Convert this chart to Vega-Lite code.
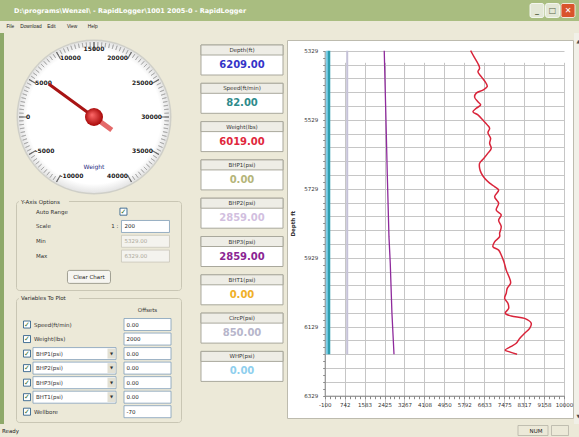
{
  "$schema": "https://vega.github.io/schema/vega-lite/v6.json",
  "padding": 0,
  "background": "#ece9d8",
  "spacing": 0,
  "resolve": {"scale": {"color": "independent", "fill": "independent", "stroke": "independent", "strokeWidth": "independent", "theta": "independent"}},
  "config": {
    "view": {"stroke": null},
    "concat": {"spacing": 0},
    "font": "DejaVu Sans",
    "text": {"font": "DejaVu Sans"},
    "axis": {"labelFont": "DejaVu Sans", "titleFont": "DejaVu Sans"}
  },
  "datasets": {
    "gminor": [{"v":-10000},{"v":-9500},{"v":-9000},{"v":-8500},{"v":-8000},{"v":-7500},{"v":-7000},{"v":-6500},{"v":-6000},{"v":-5500},{"v":-5000},{"v":-4500},{"v":-4000},{"v":-3500},{"v":-3000},{"v":-2500},{"v":-2000},{"v":-1500},{"v":-1000},{"v":-500},{"v":0},{"v":500},{"v":1000},{"v":1500},{"v":2000},{"v":2500},{"v":3000},{"v":3500},{"v":4000},{"v":4500},{"v":5000},{"v":5500},{"v":6000},{"v":6500},{"v":7000},{"v":7500},{"v":8000},{"v":8500},{"v":9000},{"v":9500},{"v":10000},{"v":10500},{"v":11000},{"v":11500},{"v":12000},{"v":12500},{"v":13000},{"v":13500},{"v":14000},{"v":14500},{"v":15000},{"v":15500},{"v":16000},{"v":16500},{"v":17000},{"v":17500},{"v":18000},{"v":18500},{"v":19000},{"v":19500},{"v":20000},{"v":20500},{"v":21000},{"v":21500},{"v":22000},{"v":22500},{"v":23000},{"v":23500},{"v":24000},{"v":24500},{"v":25000},{"v":25500},{"v":26000},{"v":26500},{"v":27000},{"v":27500},{"v":28000},{"v":28500},{"v":29000},{"v":29500},{"v":30000},{"v":30500},{"v":31000},{"v":31500},{"v":32000},{"v":32500},{"v":33000},{"v":33500},{"v":34000},{"v":34500},{"v":35000},{"v":35500},{"v":36000},{"v":36500},{"v":37000},{"v":37500},{"v":38000},{"v":38500},{"v":39000},{"v":39500},{"v":40000}],
    "gmajor": [{"v":-10000,"lab":"-10000"},{"v":-5000,"lab":"-5000"},{"v":0,"lab":"0"},{"v":5000,"lab":"5000"},{"v":10000,"lab":"10000"},{"v":15000,"lab":"15000"},{"v":20000,"lab":"20000"},{"v":25000,"lab":"25000"},{"v":30000,"lab":"30000"},{"v":35000,"lab":"35000"},{"v":40000,"lab":"40000"}],
    "needle": [{"val": 6019}],
    "readouts": [
      {"name":"Depth","label":"Depth(ft)","value":"6209.00"},
      {"name":"Speed","label":"Speed(ft/min)","value":"82.00"},
      {"name":"Weight","label":"Weight(lbs)","value":"6019.00"},
      {"name":"BHP1","label":"BHP1(psi)","value":"0.00"},
      {"name":"BHP2","label":"BHP2(psi)","value":"2859.00"},
      {"name":"BHP3","label":"BHP3(psi)","value":"2859.00"},
      {"name":"BHT1","label":"BHT1(psi)","value":"0.00"},
      {"name":"CircP","label":"CircP(psi)","value":"850.00"},
      {"name":"WHP","label":"WHP(psi)","value":"0.00"}
    ],
    "yopts": [
      {"row":"auto","lbl":"Auto Range"},
      {"row":"scale","lbl":"Scale","val":"200","pre":"1 :"},
      {"row":"min","lbl":"Min","val":"5329.00"},
      {"row":"max","lbl":"Max","val":"6329.00"}
    ],
    "vars": [
      {"row":"speed","lbl":"Speed(ft/min)","combo":false,"off":"0.00"},
      {"row":"weight","lbl":"Weight(lbs)","combo":false,"off":"2000"},
      {"row":"bhp1","lbl":"BHP1(psi)","combo":true,"off":"0.00"},
      {"row":"bhp2","lbl":"BHP2(psi)","combo":true,"off":"0.00"},
      {"row":"bhp3","lbl":"BHP3(psi)","combo":true,"off":"0.00"},
      {"row":"bht1","lbl":"BHT1(psi)","combo":true,"off":"0.00"},
      {"row":"wellbore","lbl":"Wellbore","combo":false,"off":"-70"}
    ],
    "logs": [
      {"series":"Speed","depth":5329,"val":82},{"series":"Speed","depth":6209,"val":82},
      {"series":"WHP","depth":5329,"val":0},{"series":"WHP","depth":6209,"val":0},
      {"series":"CircP","depth":5329,"val":850},{"series":"CircP","depth":6209,"val":850},
      {"series":"BHP3","depth":5329,"val":2413},{"series":"BHP3","depth":5491,"val":2472},{"series":"BHP3","depth":5684,"val":2540},{"series":"BHP3","depth":5868,"val":2612},{"series":"BHP3","depth":5945,"val":2667},{"series":"BHP3","depth":6090,"val":2738},{"series":"BHP3","depth":6209,"val":2825},
      {"series":"Weight","depth":5329,"val":6059},{"series":"Weight","depth":5346,"val":6198},{"series":"Weight","depth":5366,"val":6367},{"series":"Weight","depth":5380,"val":6439},{"series":"Weight","depth":5390,"val":6367},{"series":"Weight","depth":5404,"val":6507},{"series":"Weight","depth":5424,"val":6718},{"series":"Weight","depth":5433,"val":6760},{"series":"Weight","depth":5443,"val":6578},{"series":"Weight","depth":5452,"val":6296},{"series":"Weight","depth":5464,"val":6228},{"series":"Weight","depth":5477,"val":6367},{"series":"Weight","depth":5486,"val":6481},{"series":"Weight","depth":5496,"val":6296},{"series":"Weight","depth":5506,"val":6156},{"series":"Weight","depth":5515,"val":6367},{"series":"Weight","depth":5530,"val":6578},{"series":"Weight","depth":5544,"val":6760},{"series":"Weight","depth":5554,"val":6861},{"series":"Weight","depth":5567,"val":6789},{"series":"Weight","depth":5583,"val":6903},{"series":"Weight","depth":5597,"val":6861},{"series":"Weight","depth":5612,"val":6929},{"series":"Weight","depth":5626,"val":6789},{"series":"Weight","depth":5641,"val":6620},{"series":"Weight","depth":5655,"val":6439},{"series":"Weight","depth":5670,"val":6439},{"series":"Weight","depth":5684,"val":6507},{"series":"Weight","depth":5699,"val":6650},{"series":"Weight","depth":5713,"val":6861},{"series":"Weight","depth":5723,"val":7072},{"series":"Weight","depth":5733,"val":7241},{"series":"Weight","depth":5752,"val":7072},{"series":"Weight","depth":5771,"val":7241},{"series":"Weight","depth":5791,"val":7140},{"series":"Weight","depth":5805,"val":7351},{"series":"Weight","depth":5820,"val":7241},{"series":"Weight","depth":5839,"val":7351},{"series":"Weight","depth":5858,"val":7283},{"series":"Weight","depth":5868,"val":7283},{"series":"Weight","depth":5883,"val":7072},{"series":"Weight","depth":5897,"val":7000},{"series":"Weight","depth":5907,"val":7241},{"series":"Weight","depth":5921,"val":7351},{"series":"Weight","depth":5941,"val":7464},{"series":"Weight","depth":5965,"val":7562},{"series":"Weight","depth":5989,"val":7705},{"series":"Weight","depth":6003,"val":7747},{"series":"Weight","depth":6018,"val":7604},{"series":"Weight","depth":6032,"val":7562},{"series":"Weight","depth":6047,"val":7494},{"series":"Weight","depth":6061,"val":7633},{"series":"Weight","depth":6076,"val":7663},{"series":"Weight","depth":6090,"val":7519},{"series":"Weight","depth":6098,"val":7773},{"series":"Weight","depth":6105,"val":8338},{"series":"Weight","depth":6119,"val":8617},{"series":"Weight","depth":6134,"val":8549},{"series":"Weight","depth":6148,"val":8338},{"series":"Weight","depth":6163,"val":8127},{"series":"Weight","depth":6177,"val":7984},{"series":"Weight","depth":6187,"val":7747},{"series":"Weight","depth":6197,"val":7519},{"series":"Weight","depth":6202,"val":7705},{"series":"Weight","depth":6209,"val":8019}
    ]
  },
  "vconcat": [
    {
      "bounds": "flush",
      "resolve": {"scale": {"color": "independent", "fill": "independent", "stroke": "independent"}},
      "hconcat": [
        {
          "width": 520, "height": 21,
          "view": {"fill": "#a9bd80", "stroke": null},
          "data": {"values": [{"t": "D:\\programs\\Wenzel\\ - RapidLogger\\1001 2005-0 - RapidLogger"}]},
          "mark": {"type": "text", "align": "left", "baseline": "middle", "dx": 14, "fontSize": 6.5, "fontWeight": "bold", "color": "#ffffff"},
          "encoding": {
            "x": {"datum": 0, "type": "quantitative", "scale": {"domain": [0, 1]}, "axis": null},
            "text": {"field": "t"}
          }
        },
        {
          "width": 59, "height": 21,
          "view": {"fill": "#a9bd80", "stroke": null},
          "data": {"values": [{"b": "min", "g": "_"}, {"b": "max", "g": "□"}, {"b": "close", "g": "✕"}]},
          "encoding": {
            "x": {"field": "b", "type": "nominal", "scale": {"type": "point", "domain": ["min", "max", "close"], "padding": 0.903, "align": 0.607}, "axis": null},
            "y": {"datum": "c", "type": "nominal", "scale": {"type": "point", "padding": 0.5}, "axis": null}
          },
          "layer": [
            {"mark": {"type": "rect", "width": 14, "height": 14, "cornerRadius": 2, "stroke": "#ffffff", "strokeWidth": 0.8},
             "encoding": {"fill": {"field": "b", "type": "nominal", "scale": {"domain": ["min", "max", "close"], "range": ["#e3e7d6", "#e3e7d6", "#d9532c"]}, "legend": null}}},
            {"mark": {"type": "text", "fontSize": 8, "fontWeight": "bold"},
             "encoding": {"text": {"field": "g"}, "color": {"field": "b", "type": "nominal", "scale": {"domain": ["min", "max", "close"], "range": ["#5a6648", "#5a6648", "#ffffff"]}, "legend": null}}}
          ]
        }
      ],
      "spacing": 0
    },
    {
      "bounds": "flush",
      "hconcat": [
        {
          "width": 103, "height": 12,
          "data": {"values": [{"m": "File"}, {"m": "Download"}, {"m": "Edit"}, {"m": "View"}, {"m": "Help"}]},
          "mark": {"type": "text", "fontSize": 4.8, "font": "Liberation Sans", "color": "#222222"},
          "encoding": {
            "x": {"field": "m", "type": "nominal", "sort": null, "scale": {"type": "band", "domain": ["File", "Download", "Edit", "View", "Help"], "paddingInner": 0, "paddingOuter": 0}, "axis": null},
            "text": {"field": "m"}
          }
        },
        {"width": 476, "height": 12, "data": {"values": []}, "mark": "point", "encoding": {}}
      ],
      "spacing": 0
    },
    {
      "resolve": {"scale": {"color": "independent", "fill": "independent", "stroke": "independent", "strokeWidth": "independent", "theta": "independent"}},
      "hconcat": [
        {"width": 4, "height": 391, "view": {"fill": "#8ea96a", "stroke": null}, "data": {"values": []}, "mark": "point", "encoding": {}},
        {"width": 11, "height": 10, "data": {"values": []}, "mark": "point", "encoding": {}},
        {
          "bounds": "flush",
          "resolve": {"scale": {"color": "independent", "fill": "independent", "stroke": "independent", "theta": "independent"}},
          "vconcat": [
            {
              "width": 156, "height": 168,
              "layer": [
                {"data": {"values": [{"k": 1}]}, "mark": {"type": "arc", "theta": 0, "theta2": 6.2832, "innerRadius": 0, "outerRadius": 77.5, "fill": "#cfcfc8"}},
                {"data": {"values": [{"k": 1}]}, "mark": {"type": "arc", "theta": 0, "theta2": 6.2832, "innerRadius": 0, "outerRadius": 76, "fill": {"gradient": "radial", "stops": [{"offset": 0, "color": "#ffffff"}, {"offset": 0.88, "color": "#ffffff"}, {"offset": 1, "color": "#e4e4e4"}]}}},
                {"data": {"name": "gminor"}, "mark": {"type": "arc", "innerRadius": 70.5, "outerRadius": 75, "filled": false, "stroke": "#a3a3a3", "strokeWidth": 0.7},
                 "encoding": {"theta": {"field": "v", "type": "quantitative", "stack": null, "scale": {"domain": [-10000, 40000], "range": [-2.618, 2.618]}}, "theta2": {"field": "v"}}},
                {"data": {"name": "gmajor"}, "mark": {"type": "arc", "innerRadius": 67, "outerRadius": 75, "filled": false, "stroke": "#6a6a6a", "strokeWidth": 1.2},
                 "encoding": {"theta": {"field": "v", "type": "quantitative", "stack": null, "scale": {"domain": [-10000, 40000], "range": [-2.618, 2.618]}}, "theta2": {"field": "v"}}},
                {"data": {"name": "gmajor"}, "mark": {"type": "text", "radius": 68, "fontSize": 6, "fontWeight": "bold", "color": "#222222", "align": {"expr": "datum.v > 15000 ? 'right' : (datum.v < 15000 ? 'left' : 'center')"}},
                 "encoding": {"theta": {"field": "v", "type": "quantitative", "stack": null, "scale": {"domain": [-10000, 40000], "range": [-2.618, 2.618]}}, "text": {"field": "lab"}}},
                {"data": {"values": [{"t": "Weight"}]}, "mark": {"type": "text", "dy": 50, "fontSize": 6, "color": "#1f2a80"}, "encoding": {"text": {"field": "t"}}},
                {"data": {"name": "needle"}, "mark": {"type": "arc", "innerRadius": 0, "outerRadius": 22, "thetaOffset": 3.1416, "theta2Offset": 3.1416, "filled": false, "stroke": "#e46a6a", "strokeWidth": 5, "strokeCap": "round"},
                 "encoding": {"theta": {"field": "val", "type": "quantitative", "stack": null, "scale": {"domain": [-10000, 40000], "range": [-2.618, 2.618]}}, "theta2": {"field": "val"}}},
                {"data": {"name": "needle"}, "mark": {"type": "arc", "innerRadius": 0, "outerRadius": 56, "filled": false, "stroke": "#a81414", "strokeWidth": 3, "strokeCap": "round"},
                 "encoding": {"theta": {"field": "val", "type": "quantitative", "stack": null, "scale": {"domain": [-10000, 40000], "range": [-2.618, 2.618]}}, "theta2": {"field": "val"}}},
                {"data": {"values": [{"k": 1}]}, "mark": {"type": "arc", "theta": 0, "theta2": 6.2832, "innerRadius": 0, "outerRadius": 9, "fill": {"gradient": "radial", "x1": 0.38, "y1": 0.38, "r1": 0, "x2": 0.5, "y2": 0.5, "r2": 0.55, "stops": [{"offset": 0, "color": "#ff6a6a"}, {"offset": 1, "color": "#a00000"}]}}}
              ]
            },
            {
              "width": 165, "height": 89,
              "view": {"stroke": "#c9c6b4", "cornerRadius": 3},
              "data": {"name": "yopts"},
              "encoding": {
                "y": {"field": "row", "type": "nominal", "scale": {"type": "point", "domain": ["auto", "scale", "min", "max", "btn", "end"], "padding": 0.505, "align": 0.713}, "axis": null}
              },
              "layer": [
                {"data": {"values": [{"row": "auto", "t": "Y-Axis Options"}]},
                 "mark": {"type": "rect", "width": 50, "height": 6, "xOffset": 8, "yOffset": -9.5, "fill": "#ece9d8"},
                 "encoding": {"x": {"datum": "lbl", "type": "nominal", "scale": {"type": "point", "domain": ["lbl", "fld"], "padding": 0.2535, "align": 0.36}, "axis": null}}},
                {"data": {"values": [{"row": "auto", "t": "Y-Axis Options"}]},
                 "mark": {"type": "text", "align": "left", "xOffset": -15, "yOffset": -9.5, "fontSize": 5.5, "color": "#2b2b2b"},
                 "encoding": {"x": {"datum": "lbl", "type": "nominal", "scale": {"type": "point", "domain": ["lbl", "fld"], "padding": 0.2535, "align": 0.36}, "axis": null}, "text": {"field": "t"}}},
                {"mark": {"type": "text", "align": "left", "fontSize": 5.5, "color": "#333333"},
                 "encoding": {"x": {"datum": "lbl", "type": "nominal", "scale": {"type": "point", "domain": ["lbl", "fld"], "padding": 0.2535, "align": 0.36}, "axis": null}, "text": {"field": "lbl"}}},
                {"transform": [{"filter": "datum.row === 'auto'"}],
                 "mark": {"type": "rect", "width": 7, "height": 7, "xOffset": -22, "fill": "#ffffff", "stroke": "#1c5180", "strokeWidth": 0.8},
                 "encoding": {"x": {"datum": "fld", "type": "nominal", "scale": {"type": "point", "domain": ["lbl", "fld"], "padding": 0.2535, "align": 0.36}, "axis": null}}},
                {"transform": [{"filter": "datum.row === 'auto'"}],
                 "mark": {"type": "text", "xOffset": -22, "fontSize": 7, "fontWeight": "bold", "color": "#2f6f2f", "text": "✓"},
                 "encoding": {"x": {"datum": "fld", "type": "nominal", "scale": {"type": "point", "domain": ["lbl", "fld"], "padding": 0.2535, "align": 0.36}, "axis": null}}},
                {"transform": [{"filter": "isValid(datum.val)"}],
                 "mark": {"type": "rect", "width": 48, "height": 12, "strokeWidth": 0.8},
                 "encoding": {
                   "x": {"datum": "fld", "type": "nominal", "scale": {"type": "point", "domain": ["lbl", "fld"], "padding": 0.2535, "align": 0.36}, "axis": null},
                   "fill": {"condition": {"test": "datum.row === 'scale'", "value": "#ffffff"}, "value": "#f4f3ee"},
                   "stroke": {"condition": {"test": "datum.row === 'scale'", "value": "#7f9db9"}, "value": "#c9c7ba"}
                 }},
                {"transform": [{"filter": "isValid(datum.val)"}],
                 "mark": {"type": "text", "align": "left", "dx": -21, "fontSize": 5.5},
                 "encoding": {
                   "x": {"datum": "fld", "type": "nominal", "scale": {"type": "point", "domain": ["lbl", "fld"], "padding": 0.2535, "align": 0.36}, "axis": null},
                   "text": {"field": "val"},
                   "color": {"condition": {"test": "datum.row === 'scale'", "value": "#222222"}, "value": "#aca899"}
                 }},
                {"transform": [{"filter": "isValid(datum.pre)"}],
                 "mark": {"type": "text", "align": "right", "dx": -27, "fontSize": 5.5, "color": "#333333"},
                 "encoding": {"x": {"datum": "fld", "type": "nominal", "scale": {"type": "point", "domain": ["lbl", "fld"], "padding": 0.2535, "align": 0.36}, "axis": null}, "text": {"field": "pre"}}},
                {"data": {"values": [{"row": "btn", "t": "Clear Chart"}]},
                 "mark": {"type": "rect", "width": 43, "height": 13, "xOffset": 53, "yOffset": 6, "cornerRadius": 2, "fill": "#f6f5f0", "stroke": "#8c8a7c", "strokeWidth": 0.8},
                 "encoding": {"x": {"datum": "lbl", "type": "nominal", "scale": {"type": "point", "domain": ["lbl", "fld"], "padding": 0.2535, "align": 0.36}, "axis": null}}},
                {"data": {"values": [{"row": "btn", "t": "Clear Chart"}]},
                 "mark": {"type": "text", "xOffset": 53, "yOffset": 6, "fontSize": 5.5, "color": "#222222"},
                 "encoding": {"x": {"datum": "lbl", "type": "nominal", "scale": {"type": "point", "domain": ["lbl", "fld"], "padding": 0.2535, "align": 0.36}, "axis": null}, "text": {"field": "t"}}}
              ]
            },
            {"width": 10, "height": 8, "data": {"values": []}, "mark": "point", "encoding": {}},
            {
              "width": 165, "height": 124,
              "view": {"stroke": "#c9c6b4", "cornerRadius": 3},
              "data": {"name": "vars"},
              "encoding": {
                "y": {"field": "row", "type": "nominal", "scale": {"type": "point", "domain": ["hdr", "speed", "weight", "bhp1", "bhp2", "bhp3", "bht1", "wellbore"], "padding": 0.767, "align": 0.538}, "axis": null}
              },
              "layer": [
                {"data": {"values": [{"row": "hdr", "t": "Variables To Plot"}]},
                 "mark": {"type": "rect", "width": 60, "height": 6, "xOffset": 22, "yOffset": -11.5, "fill": "#ece9d8"},
                 "encoding": {"x": {"datum": "chk", "type": "nominal", "scale": {"type": "point", "domain": ["chk", "fld"], "padding": 0.1845, "align": 0.247}, "axis": null}}},
                {"data": {"values": [{"row": "hdr", "t": "Variables To Plot"}]},
                 "mark": {"type": "text", "align": "left", "xOffset": -6, "yOffset": -11.5, "fontSize": 5.5, "color": "#2b2b2b"},
                 "encoding": {"x": {"datum": "chk", "type": "nominal", "scale": {"type": "point", "domain": ["chk", "fld"], "padding": 0.1845, "align": 0.247}, "axis": null}, "text": {"field": "t"}}},
                {"mark": {"type": "rect", "width": 7, "height": 7, "fill": "#ffffff", "stroke": "#1c5180", "strokeWidth": 0.8},
                 "encoding": {"x": {"datum": "chk", "type": "nominal", "scale": {"type": "point", "domain": ["chk", "fld"], "padding": 0.1845, "align": 0.247}, "axis": null}}},
                {"mark": {"type": "text", "fontSize": 7, "fontWeight": "bold", "color": "#2f6f2f", "text": "✓"},
                 "encoding": {"x": {"datum": "chk", "type": "nominal", "scale": {"type": "point", "domain": ["chk", "fld"], "padding": 0.1845, "align": 0.247}, "axis": null}}},
                {"transform": [{"filter": "!datum.combo"}],
                 "mark": {"type": "text", "align": "left", "dx": 7, "fontSize": 5.5, "color": "#333333"},
                 "encoding": {"x": {"datum": "chk", "type": "nominal", "scale": {"type": "point", "domain": ["chk", "fld"], "padding": 0.1845, "align": 0.247}, "axis": null}, "text": {"field": "lbl"}}},
                {"transform": [{"filter": "datum.combo"}],
                 "mark": {"type": "rect", "width": 83, "height": 12, "xOffset": 47.5, "fill": "#ffffff", "stroke": "#7f9db9", "strokeWidth": 0.8},
                 "encoding": {"x": {"datum": "chk", "type": "nominal", "scale": {"type": "point", "domain": ["chk", "fld"], "padding": 0.1845, "align": 0.247}, "axis": null}}},
                {"transform": [{"filter": "datum.combo"}],
                 "mark": {"type": "rect", "width": 8, "height": 10, "xOffset": 84.5, "fill": "#e2e0d4"},
                 "encoding": {"x": {"datum": "chk", "type": "nominal", "scale": {"type": "point", "domain": ["chk", "fld"], "padding": 0.1845, "align": 0.247}, "axis": null}}},
                {"transform": [{"filter": "datum.combo"}],
                 "mark": {"type": "text", "xOffset": 84.5, "fontSize": 4, "color": "#333333", "text": "▼"},
                 "encoding": {"x": {"datum": "chk", "type": "nominal", "scale": {"type": "point", "domain": ["chk", "fld"], "padding": 0.1845, "align": 0.247}, "axis": null}}},
                {"transform": [{"filter": "datum.combo"}],
                 "mark": {"type": "text", "align": "left", "dx": 9, "fontSize": 5.5, "color": "#333333"},
                 "encoding": {"x": {"datum": "chk", "type": "nominal", "scale": {"type": "point", "domain": ["chk", "fld"], "padding": 0.1845, "align": 0.247}, "axis": null}, "text": {"field": "lbl"}}},
                {"mark": {"type": "rect", "width": 47, "height": 12, "fill": "#ffffff", "stroke": "#7f9db9", "strokeWidth": 0.8},
                 "encoding": {"x": {"datum": "fld", "type": "nominal", "scale": {"type": "point", "domain": ["chk", "fld"], "padding": 0.1845, "align": 0.247}, "axis": null}}},
                {"mark": {"type": "text", "align": "left", "dx": -21, "fontSize": 5.5, "color": "#222222"},
                 "encoding": {"x": {"datum": "fld", "type": "nominal", "scale": {"type": "point", "domain": ["chk", "fld"], "padding": 0.1845, "align": 0.247}, "axis": null}, "text": {"field": "off"}}},
                {"data": {"values": [{"row": "hdr", "t": "Offsets"}]},
                 "mark": {"type": "text", "fontSize": 5.5, "color": "#333333"},
                 "encoding": {"x": {"datum": "fld", "type": "nominal", "scale": {"type": "point", "domain": ["chk", "fld"], "padding": 0.1845, "align": 0.247}, "axis": null}, "text": {"field": "t"}}}
              ]
            }
          ],
          "spacing": 0
        },
        {
          "width": 104, "height": 391,
          "data": {"name": "readouts"},
          "encoding": {
            "y": {"field": "name", "type": "nominal", "sort": null, "scale": {"type": "band", "domain": ["Depth", "Speed", "Weight", "BHP1", "BHP2", "BHP3", "BHT1", "CircP", "WHP"], "paddingInner": 0.217, "paddingOuter": 0.713, "align": 0.22}, "axis": null},
            "x": {"datum": "box", "type": "nominal", "scale": {"type": "band", "domain": ["box"], "paddingInner": 0, "paddingOuter": 0.134, "align": 0.864}, "axis": null}
          },
          "layer": [
            {"mark": {"type": "rect", "fill": "#ffffff", "stroke": "#a9a89c", "strokeWidth": 1}},
            {"mark": {"type": "rect", "height": 10, "yOffset": -10, "fill": "#eeede6", "stroke": "#a9a89c", "strokeWidth": 1}},
            {"mark": {"type": "text", "yOffset": -10, "fontSize": 5.5, "color": "#333333"}, "encoding": {"text": {"field": "label"}}},
            {"mark": {"type": "text", "yOffset": 5, "fontSize": 10, "fontWeight": "bold"},
             "encoding": {
               "text": {"field": "value"},
               "color": {"field": "name", "type": "nominal", "scale": {"domain": ["Depth", "Speed", "Weight", "BHP1", "BHP2", "BHP3", "BHT1", "CircP", "WHP"], "range": ["#3434c8", "#2e8b8b", "#e0283c", "#b5b57a", "#d2bfdf", "#8b2593", "#f0b028", "#b7b6cb", "#8fcfee"]}, "legend": null}
             }}
          ]
        },
        {
          "bounds": "flush",
          "vconcat": [
            {"width": 286, "height": 7, "data": {"values": []}, "mark": "point", "encoding": {}},
            {
              "width": 286, "height": 378,
              "view": {"fill": "#ffffff", "stroke": "#bdbbae"},
              "data": {"name": "logs"},
              "encoding": {
                "x": {"field": "val", "type": "quantitative",
                  "scale": {"domain": [-100, 10000], "range": [37.7, 277], "nice": false, "zero": false},
                  "axis": {
                    "values": [-100,110.4167,320.8333,531.25,741.6667,952.0833,1162.5,1372.9167,1583.3333,1793.75,2004.1667,2214.5833,2425,2635.4167,2845.8333,3056.25,3266.6667,3477.0833,3687.5,3897.9167,4108.3333,4318.75,4529.1667,4739.5833,4950,5160.4167,5370.8333,5581.25,5791.6667,6002.0833,6212.5,6422.9167,6633.3333,6843.75,7054.1667,7264.5833,7475,7685.4167,7895.8333,8106.25,8316.6667,8527.0833,8737.5,8947.9167,9158.3333,9368.75,9579.1667,9789.5833,10000],
                    "offset": -22.3,
                    "title": null,
                    "grid": true,
                    "gridColor": "#c6c6c6",
                    "gridWidth": 1,
                    "gridOpacity": {"condition": {"test": "round((datum.value + 100) / 210.41667) % 4 === 0", "value": 1}, "value": 0},
                    "tickSize": 3,
                    "tickColor": "#8a8a8a",
                    "domainColor": "#8a8a8a",
                    "labelExpr": "round((datum.value + 100) / 210.41667) % 4 === 0 ? '' + round(datum.value) : ''",
                    "labelFontSize": 5.5,
                    "labelColor": "#333333",
                    "labelPadding": 4,
                    "labelOverlap": false,
                    "labelBound": false,
                    "labelFlush": false
                  }
                },
                "y": {"field": "depth", "type": "quantitative",
                  "scale": {"domain": [5329, 6329], "range": [10.7, 355.7], "nice": false, "zero": false},
                  "axis": {
                    "values": [5329,5349,5369,5389,5409,5429,5449,5469,5489,5509,5529,5549,5569,5589,5609,5629,5649,5669,5689,5709,5729,5749,5769,5789,5809,5829,5849,5869,5889,5909,5929,5949,5969,5989,6009,6029,6049,6069,6089,6109,6129,6149,6169,6189,6209,6229,6249,6269,6289,6309,6329],
                    "offset": -37.7,
                    "title": "Depth ft",
                    "titleFontSize": 5.5,
                    "titleFontWeight": "bold",
                    "titleColor": "#333333",
                    "titlePadding": 8,
                    "grid": true,
                    "gridColor": "#c6c6c6",
                    "gridWidth": 1,
                    "gridOpacity": {"condition": {"test": "(datum.value - 5329) % 40 === 0", "value": 1}, "value": 0},
                    "tickSize": 2,
                    "tickColor": "#8a8a8a",
                    "domainColor": "#8a8a8a",
                    "labelExpr": "(datum.value - 5329) % 200 === 0 ? '' + datum.value : ''",
                    "labelFontSize": 5.5,
                    "labelColor": "#333333",
                    "labelPadding": 5,
                    "labelOverlap": false,
                    "labelBound": false,
                    "labelFlush": false
                  }
                },
                "order": {"field": "depth", "type": "quantitative"}
              },
              "layer": [
                {"transform": [{"filter": "datum.series === 'CircP'"}], "mark": {"type": "line", "strokeWidth": 2, "color": "#c5c2d8"}},
                {"transform": [{"filter": "datum.series === 'WHP'"}], "mark": {"type": "line", "strokeWidth": 2.5, "color": "#7fd0ea"}},
                {"transform": [{"filter": "datum.series === 'Speed'"}], "mark": {"type": "line", "strokeWidth": 2.5, "color": "#2f9eae"}},
                {"transform": [{"filter": "datum.series === 'BHP3'"}], "mark": {"type": "line", "strokeWidth": 1.3, "color": "#8e2a9c"}},
                {"transform": [{"filter": "datum.series === 'Weight'"}], "mark": {"type": "line", "strokeWidth": 1.5, "color": "#d9243a", "interpolate": "catmull-rom", "strokeJoin": "round"}}
              ]
            }
          ],
          "spacing": 0
        },
        {
          "width": 9, "height": 391,
          "view": {"fill": "#f1f0e8", "stroke": null},
          "data": {"values": [{"a": "up", "g": "▲"}, {"a": "down", "g": "▼"}]},
          "mark": {"type": "text", "fontSize": 5, "color": "#4d4d4d"},
          "encoding": {
            "y": {"field": "a", "type": "nominal", "scale": {"type": "point", "domain": ["up", "down"], "padding": 0.02}, "axis": null},
            "text": {"field": "g"}
          }
        }
      ],
      "spacing": 0
    },
    {
      "width": 579, "height": 13,
      "data": {"values": [{"k": "ready", "t": "Ready"}, {"k": "num", "t": "NUM"}]},
      "encoding": {
        "x": {"field": "k", "type": "nominal", "scale": {"type": "point", "domain": ["ready", "num"], "padding": 0.0452, "align": 0.0417}, "axis": null},
        "y": {"datum": "s", "type": "nominal", "scale": {"type": "point", "padding": 0.5}, "axis": null}
      },
      "layer": [
        {"transform": [{"filter": "datum.k === 'num'"}], "mark": {"type": "rect", "width": 30, "height": 10, "fillOpacity": 0, "stroke": "#b5b3a6", "strokeWidth": 0.8}},
        {"transform": [{"filter": "datum.k === 'num'"}], "mark": {"type": "rect", "width": 17, "height": 10, "xOffset": 27, "fillOpacity": 0, "stroke": "#b5b3a6", "strokeWidth": 0.8}},
        {"transform": [{"filter": "datum.k === 'ready'"}], "mark": {"type": "text", "align": "left", "fontSize": 5.5, "color": "#222222"}, "encoding": {"text": {"field": "t"}}},
        {"transform": [{"filter": "datum.k === 'num'"}], "mark": {"type": "text", "dx": 3, "fontSize": 5.5, "color": "#222222"}, "encoding": {"text": {"field": "t"}}}
      ]
    }
  ]
}
